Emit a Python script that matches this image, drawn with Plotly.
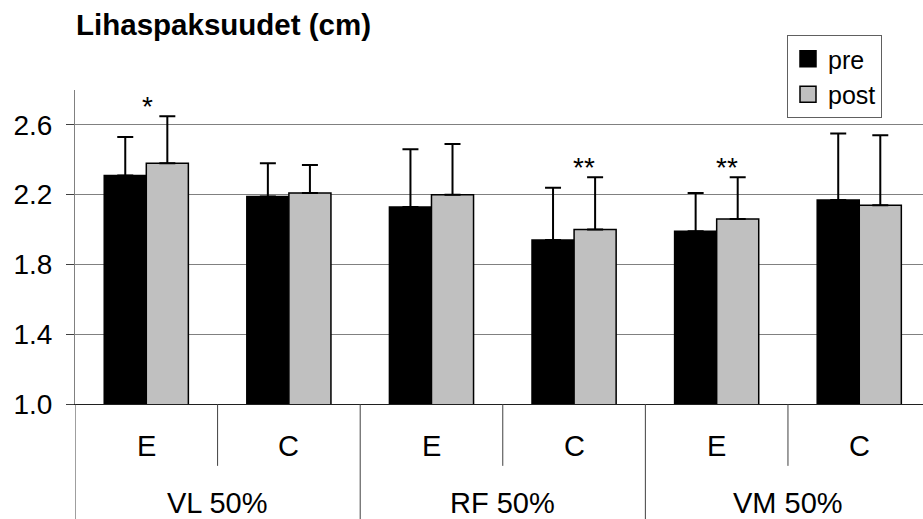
import plotly.graph_objects as go

# Muscle thickness (cm), pre/post, mean and SD per muscle & group
muscles = ["VL 50%", "RF 50%", "VM 50%"]
groups = ["E", "C"]
categories = [f"{m} {g}" for m in muscles for g in groups]
sub_labels = [g for m in muscles for g in groups]

pre = [2.31, 2.19, 2.13, 1.94, 1.99, 2.17]
post = [2.38, 2.21, 2.20, 2.00, 2.06, 2.14]
sd_pre = [0.22, 0.19, 0.33, 0.30, 0.22, 0.38]
sd_post = [0.27, 0.16, 0.29, 0.30, 0.24, 0.40]
significance = ["*", "", "", "**", "**", ""]

y_ticks = [1.0, 1.4, 1.8, 2.2, 2.6]

series = [("pre", pre, sd_pre, "black"), ("post", post, sd_post, "#c0c0c0")]

FONT = "Liberation Sans, Arial, sans-serif"

fig = go.Figure()
for name, vals, sds, color in series:
    fig.add_trace(go.Bar(
        name=name, x=categories, y=vals, showlegend=False,
        marker=dict(color=color, line=dict(color="black", width=1.5)),
        error_y=dict(type="data", array=sds, arrayminus=[0] * len(vals),
                     symmetric=False, color="black", thickness=2, width=8),
    ))
# larger square swatches for the legend
for name, vals, sds, color in series:
    fig.add_trace(go.Scatter(
        name=name, x=[None], y=[None], mode="markers", showlegend=True,
        marker=dict(symbol="square", size=16, color=color,
                    line=dict(color="black", width=1.5)),
    ))

annotations = []
shapes = []

# significance asterisks above the post error bars
for i, s in enumerate(significance):
    if s:
        annotations.append(dict(
            x=i, y=post[i] + sd_post[i], xref="x", yref="y", text=s,
            showarrow=False, xanchor="center", yanchor="bottom",
            xshift=1 if len(s) == 1 else 10, yshift=-8,
            font=dict(family=FONT, size=28, color="black"),
        ))

# sub-category labels and dividers
for i, lab in enumerate(sub_labels):
    annotations.append(dict(
        x=i, y=-0.134, xref="x", yref="paper", text=lab, showarrow=False,
        xanchor="center", yanchor="middle",
        font=dict(family=FONT, size=29, color="black"),
    ))
    if i % 2 == 1:
        shapes.append(dict(type="line", xref="x", yref="paper",
                           x0=i - 0.5, x1=i - 0.5, y0=0, y1=-0.197,
                           line=dict(color="#404040", width=1)))

# muscle group labels and dividers
n_sub = len(groups)
for j, m in enumerate(muscles):
    annotations.append(dict(
        x=j * n_sub + (n_sub - 1) / 2, y=-0.315, xref="x", yref="paper",
        text=m, showarrow=False, xanchor="center", yanchor="middle",
        font=dict(family=FONT, size=29, color="black"),
    ))
    shapes.append(dict(type="line", xref="x", yref="paper",
                       x0=j * n_sub - 0.5, x1=j * n_sub - 0.5, y0=0, y1=-0.4,
                       line=dict(color="#404040", width=1)))

fig.update_layout(
    width=923, height=519,
    margin=dict(l=75, r=0, t=90, b=115, autoexpand=False),
    paper_bgcolor="white", plot_bgcolor="white",
    barmode="group", bargap=0.41, bargroupgap=0,
    title=dict(text="<b>Lihaspaksuudet (cm)</b>", xref="container", yref="container",
               x=76 / 923, xanchor="left", y=1 - 25 / 519, yanchor="middle",
               font=dict(family=FONT, size=29.5, color="black")),
    legend=dict(xref="container", yref="container", x=787 / 923, y=1 - 35 / 519,
                xanchor="left", yanchor="top", bgcolor="white",
                bordercolor="#606060", borderwidth=1,
                font=dict(family=FONT, size=25, color="black"),
                itemwidth=30, tracegroupgap=0),
    xaxis=dict(type="category", categoryorder="array", categoryarray=categories,
               range=[-0.5, 5.447], showticklabels=False, ticks="",
               showgrid=False, showline=True, linecolor="#202020", linewidth=1,
               zeroline=False),
    yaxis=dict(range=[1.0, 2.8], tickvals=y_ticks, ticktext=[f"{v:.1f}" for v in y_ticks],
               showgrid=True, gridcolor="#808080", gridwidth=1,
               ticks="outside", ticklen=8, tickcolor="#404040",
               showline=True, linecolor="#808080", linewidth=1, zeroline=False,
               ticklabelstandoff=8,
               tickfont=dict(family=FONT, size=28, color="black")),
    annotations=annotations, shapes=shapes,
    showlegend=True,
)

fig.write_html("out.html")
